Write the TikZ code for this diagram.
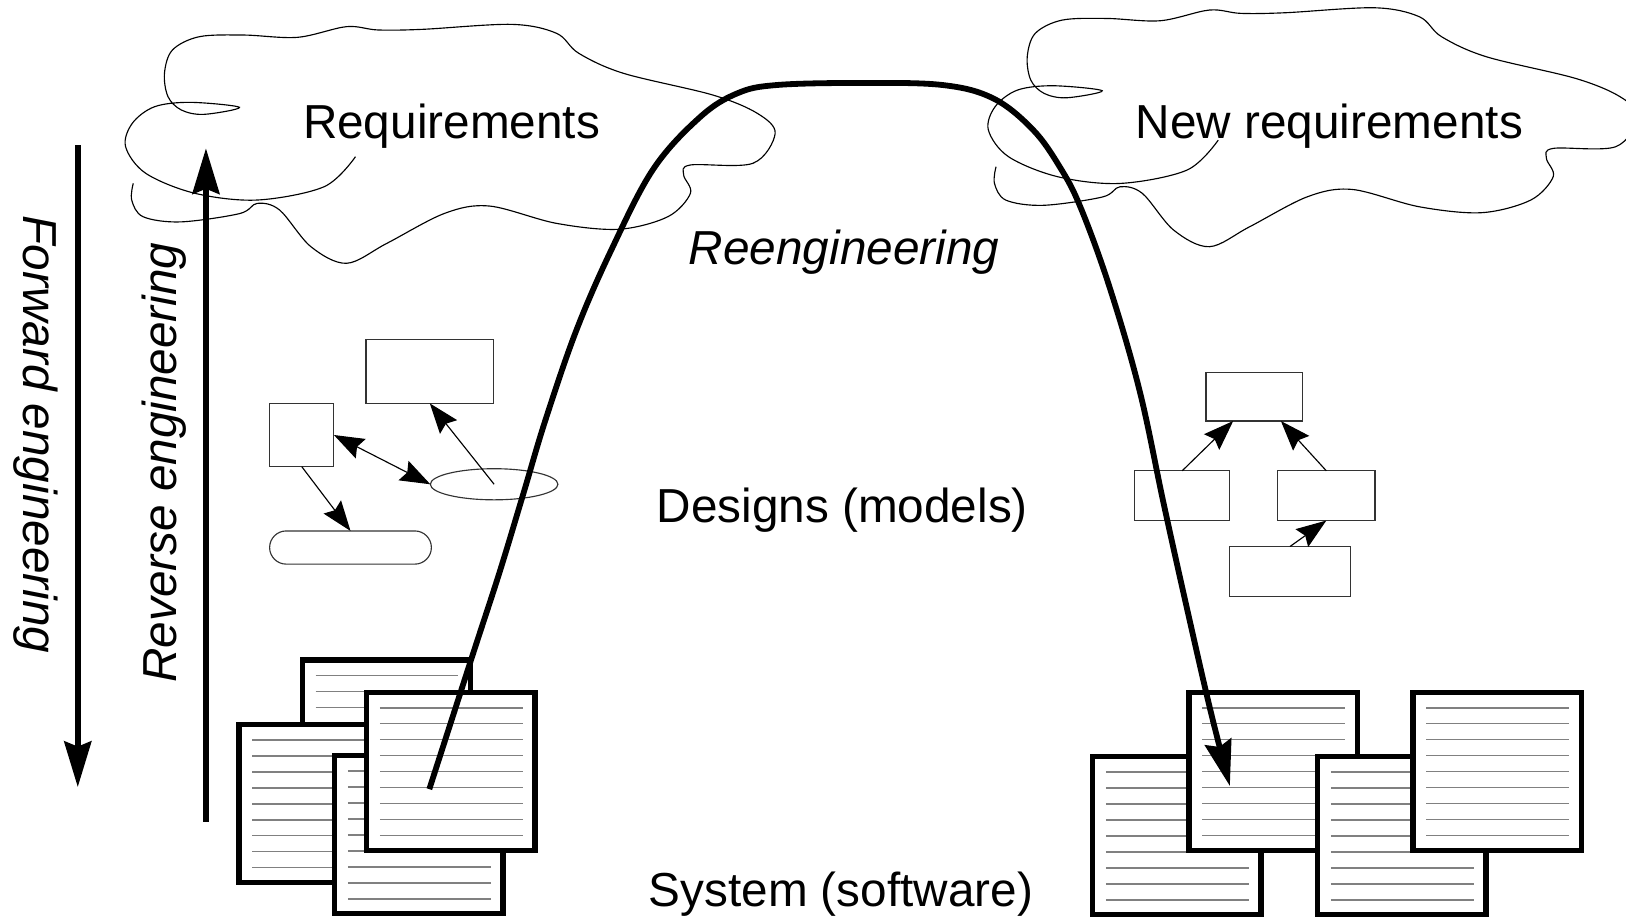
\documentclass[tikz,border=0pt]{standalone}
\usepackage{fontspec}
\setmainfont{Liberation Sans}
\usetikzlibrary{arrows.meta,shapes.geometric}
\tikzset{
  thinbox/.style={draw=black!80, line width=0.55pt, inner sep=0pt, outer sep=0pt},
  sarrow/.style={draw=black, line width=0.55pt, -{Stealth[length=14.5pt,width=10.5pt,inset=2pt]}},
  sdarrow/.style={draw=black, line width=0.55pt, {Stealth[length=14.5pt,width=10.5pt,inset=2pt]}-{Stealth[length=14.5pt,width=10.5pt,inset=2pt]}},
  bigarrow/.style={draw=black, line width=2.8pt, -{Stealth[length=22pt,width=13pt,inset=2.5pt]}},
  cloudline/.style={draw=black, line width=0.55pt},
  docnode/.style={draw=black, fill=white, line width=2.6pt, minimum width=81.15pt, minimum height=76.15pt, inner sep=0pt, outer sep=0pt},
  docline/.style={draw=black!50, line width=0.85pt},
  txt/.style={font=\fontsize{23}{27}\selectfont, inner sep=0pt, anchor=base},
}
\newcommand\docpage[3]{%
  \node[docnode] (#1) at ({#2+83.75},{#3+78.75}) {};
  \foreach \k in {0,...,8}{\draw[docline] ({#2+15.4},{#3+17.4+15.4*\k}) -- ({#2+153},{#3+17.4+15.4*\k});}
}
\begin{document}
\begin{tikzpicture}[x={(0.5pt,0)}, y={(0,-0.5pt)}]
\useasboundingbox (0,0) rectangle (1568,887);
% clouds
\begin{scope}
\clip (0,0) rectangle (1568,887);
\foreach \dx/\dy in {0/0, 832/-16}{
\draw[cloudline, shift={(\dx,\dy)}] plot[smooth, tension=0.55] coordinates {(342.8,151.1) (312.7,180) (248.1,192.9) (187.9,186.4) (140.5,167.1) (121.1,141.4) (127.6,118.9) (149.1,102.9) (183.6,98.7) (230.9,103.5) (196.5,110.3) (174.9,106.1) (162,93.2) (158.6,70.7) (166.3,48.2) (192.2,35.4) (235.2,33.8) (286.9,36) (334.2,25.7) (364.4,28.9) (407.4,28.3) (493.5,23.5) (536.6,32.1) (558.1,51.4) (601.2,70.7) (687.3,91.6) (730.3,109.3) (747.5,128.6) (726,157.5) (665.8,159.1) (659.3,168.8) (665.8,186.4) (644.2,208.9) (596.8,221.1) (536.6,215.4) (472,198.7) (428.9,205.7) (373,234.7) (334.2,253.9) (299.8,237.9) (269.6,202.5) (248.1,196.1) (231,206) (174,214) (138,209) (127,192.9) (128.5,176.8)};
}
\end{scope}
% texts
\node[txt] (req) at (435.4,133.4) {Requirements};
\node[txt] (newreq) at (1282,133.4) {New requirements};
\node[txt] (reeng) at (814,255.5) {\itshape Reengineering};
\node[txt] (designs) at (812.3,504) {Designs (models)};
\node[txt] (system) at (810.9,874.3) {System (software)};
\node[txt, rotate=-90] (fwd) at (22.5,419) {\itshape Forward engineering};
\node[txt, rotate=90] (rev) at (170.4,446) {\itshape Reverse engineering};
% vertical arrows
\coordinate (fwdA) at (75,140);
\coordinate (fwdB) at (75,759);
\draw[bigarrow] (fwdA) -- (fwdB);
\coordinate (revA) at (198.6,792.4);
\coordinate (revB) at (198.6,143);
\draw[bigarrow] (revA) -- (revB);
% left design model
\node[thinbox, minimum width=61.5pt, minimum height=31pt] (lt) at (414.5,358) {};
\node[thinbox, minimum width=31pt, minimum height=30.5pt] (lsq) at (291,419.5) {};
\node[thinbox, ellipse, minimum width=61.5pt, minimum height=15pt] (lel) at (476.5,467) {};
\node[thinbox, minimum width=78pt, minimum height=16pt, rounded corners=8pt] (lrr) at (338,528) {};
\draw[sarrow] (lel.center) -- (lt.south);
\draw[sdarrow] (lsq.east) -- (lel.west);
\draw[sarrow] (lsq.south) -- (lrr.north);
% right design model
\node[thinbox, minimum width=46.5pt, minimum height=23.5pt] (rtop) at (1209.5,382.5) {};
\node[thinbox, minimum width=46pt, minimum height=24pt] (rleft) at (1140,478) {};
\node[thinbox, minimum width=47pt, minimum height=24pt] (rright) at (1279,478) {};
\node[thinbox, minimum width=58pt, minimum height=24pt] (rbot) at (1244,551) {};
\draw[sarrow] (rleft.north) -- ([xshift=-10.15pt]rtop.south);
\draw[sarrow] (rright.north) -- ([xshift=12.85pt]rtop.south);
\draw[sarrow] (rbot.north) -- (rright.south);
% documents
\docpage{dA}{289}{634}
\docpage{dB}{228}{696}
\docpage{dC}{320}{726}
\docpage{dD}{351}{665}
\docpage{dE}{1051}{727}
\docpage{dF}{1144}{665}
\docpage{dG}{1268}{727}
\docpage{dH}{1360}{665}
% reengineering curve
\coordinate (reA) at (414,761);
\coordinate (reB) at (1186,758);
\draw[bigarrow] plot[smooth, tension=0.6] coordinates {(reA) (455,634) (482,551) (505,475) (526,405) (556,318) (590,240) (630,163) (675,113) (711,90) (749,82) (829,80) (909,82) (958,95) (996,125) (1022,161) (1042,200) (1070,277) (1099,377) (1122,485) (1144,584) (1167,684) (reB)};
\end{tikzpicture}
\end{document}
